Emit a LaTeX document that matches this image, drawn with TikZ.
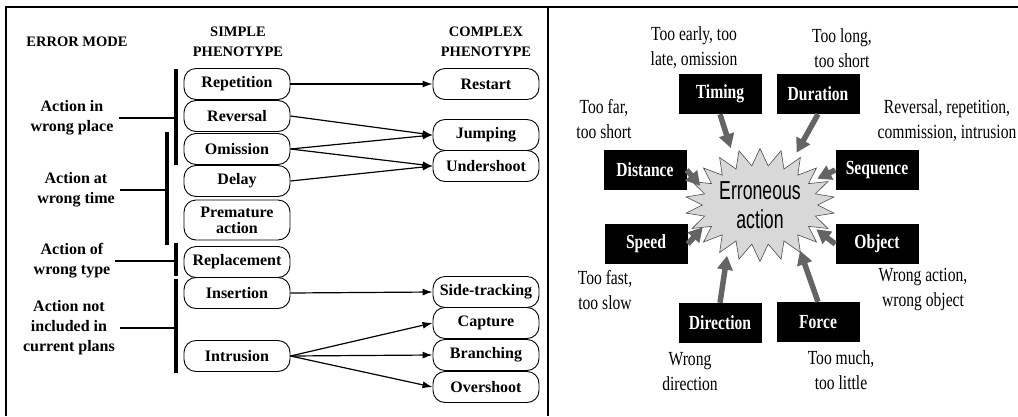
\documentclass[tikz,border=0pt]{standalone}
\usepackage{fontspec}
\setmainfont{Liberation Serif}
\newfontfamily\narrowserif[FakeStretch=0.78]{Liberation Serif}
\newfontfamily\narrowsans[FakeStretch=0.68]{Liberation Sans}
\usepackage{tikz}
\usetikzlibrary{
  arrows.meta, shapes.symbols, positioning
}
\usepackage{xcolor}
\definecolor{burstgray}{RGB}{216,216,216}
\definecolor{arrowgray}{RGB}{100,100,100}

\begin{document}
\begin{tikzpicture}[x=1pt, y=-1pt,
    phenbox/.style={draw, line width=0.9pt, rounded corners=12pt,
      minimum width=106pt, minimum height=31pt, inner sep=1pt, align=center,
      font=\bfseries\fontsize{16}{16}\selectfont},
    errlabel/.style={align=center, inner sep=5pt,
      font=\bfseries\fontsize{16}{20}\selectfont},
    colhead/.style={align=center, font=\bfseries\fontsize{14.5}{20}\selectfont},
    bracket/.style={line width=3.8pt},
    stub/.style={line width=2.5pt},
    linkarrow/.style={line width=1.2pt, -{Latex[length=10pt,width=7pt]}},
    kindbox/.style={fill=black, text=white, minimum width=83pt, minimum height=40pt,
      inner sep=0pt, font=\narrowserif\bfseries\fontsize{20}{24}\selectfont},
    noteline/.style={align=center, inner sep=0pt,
      font=\narrowserif\fontsize{20}{25}\selectfont},
    pusharrow/.style={draw=arrowgray, line width=5.5pt,
      -{Triangle[length=14pt,width=15pt]}}
  ]
  \useasboundingbox (0,0) rectangle (1018,416);

  % frame
  \draw[line width=1.3pt] (1018,7) -- (6,7) -- (6,416);
  \draw[line width=1.3pt] (548,7) -- (548,416);

  % left panel: headings
  \node[colhead] (errmode) at (77,42) {ERROR MODE};
  \node[colhead] (simplehead) at (238,42) {SIMPLE\\PHENOTYPE};
  \node[colhead] (complexhead) at (486,42) {COMPLEX\\PHENOTYPE};

  % error modes
  \node[errlabel] (place) at (72,118) {Action in\\wrong place};
  \node[errlabel] (time) at (76,190) {Action at\\wrong time};
  \node[errlabel] (type) at (72,261) {Action of\\wrong type};
  \node[errlabel] (plans) at (69,328) {Action not\\included in\\current plans};

  % simple phenotypes
  \node[phenbox] (rep) at (237,84) {Repetition};
  \node[phenbox] (rev) at (237,116) {Reversal};
  \node[phenbox] (omi) at (237,149) {Omission};
  \node[phenbox] (del) at (237,181) {Delay};
  \node[phenbox, minimum height=40pt] (pre) at (237,220) {Premature\\action};
  \node[phenbox] (repl) at (237,262) {Replacement};
  \node[phenbox] (ins) at (237,293) {Insertion};
  \node[phenbox] (intr) at (237,356) {Intrusion};

  % complex phenotypes
  \node[phenbox] (restart) at (486,84) {Restart};
  \node[phenbox] (jump) at (486,135) {Jumping};
  \node[phenbox] (under) at (486,166) {Undershoot};
  \node[phenbox] (side) at (486,292) {Side-tracking};
  \node[phenbox] (capt) at (486,323) {Capture};
  \node[phenbox] (branch) at (486,355) {Branching};
  \node[phenbox] (over) at (486,387) {Overshoot};

  % brackets
  \coordinate (pa) at (176,69);  \coordinate (pb) at (176,165);
  \coordinate (ta) at (167,132); \coordinate (tb) at (167,245);
  \coordinate (ya) at (176,243); \coordinate (yb) at (176,276);
  \coordinate (na) at (176,279); \coordinate (nb) at (176,373);
  \draw[bracket] (pa) -- (pb);
  \draw[bracket] (ta) -- (tb);
  \draw[bracket] (ya) -- (yb);
  \draw[bracket] (na) -- (nb);
  \draw[stub] (place.east) -- (place.east -| pa);
  \draw[stub] (time.east) -- (time.east -| ta);
  \draw[stub] (type.east) -- (type.east -| ya);
  \draw[stub] (plans.east) -- (plans.east -| na);

  % links
  \draw[linkarrow] (rep.east) -- (restart.west);
  \draw[linkarrow] (rev.east) -- (jump.west);
  \draw[linkarrow] (omi.east) -- (jump.west);
  \draw[linkarrow] (omi.east) -- (under.west);
  \draw[linkarrow] (del.east) -- (under.west);
  \draw[linkarrow] (ins.east) -- (side.west);
  \draw[linkarrow] (intr.east) -- (capt.west);
  \draw[linkarrow] (intr.east) -- (branch.west);
  \draw[linkarrow] (intr.east) -- (over.west);

  % right panel
  \node[starburst, starburst points=22, starburst point height=17pt,
        random starburst=0, draw=black!70, fill=burstgray, line width=0.6pt,
        minimum width=133pt, minimum height=113pt, inner sep=0pt, align=center,
        font=\narrowsans\fontsize{26}{29}\selectfont] (burst) at (760,205)
        {Erroneous\\action};
  \node[circle, minimum size=124pt, inner sep=0pt] (hub) at (760,203) {};

  \node[kindbox] (timing) at (720,94) {Timing};
  \node[kindbox] (duration) at (818,94) {Duration};
  \node[kindbox] (distance) at (645,170) {Distance};
  \node[kindbox] (sequence) at (877,170) {Sequence};
  \node[kindbox] (speed) at (646,244) {Speed};
  \node[kindbox] (object) at (877,244) {Object};
  \node[kindbox] (direction) at (720,323) {Direction};
  \node[kindbox] (force) at (818,322) {Force};

  \node[noteline] (early) at (694,48) {Too early, too\\late, omission};
  \node[noteline] (long) at (842,48) {Too long,\\too short};
  \node[noteline] (far) at (604,119) {Too far,\\too short};
  \node[noteline] (order) at (947,121) {Reversal, repetition,\\commission, intrusion};
  \node[noteline] (fast) at (605,290) {Too fast,\\too slow};
  \node[noteline] (wrongobj) at (923,290) {Wrong action,\\wrong object};
  \node[noteline] (wrongdir) at (690,372) {Wrong\\direction};
  \node[noteline] (much) at (841,370) {Too much,\\too little};

  \draw[pusharrow] (timing.south) -- (hub.118);
  \draw[pusharrow] (duration.south) -- (hub.54);
  \draw[pusharrow] (distance.east) -- (hub.164);
  \draw[pusharrow] (sequence.west) -- (hub.23);
  \draw[pusharrow] (speed.east) -- (hub.203);
  \draw[pusharrow] (object.west) -- (hub.-25);
  \draw[pusharrow] (direction.north) -- (hub.238);
  \draw[pusharrow] (force.north) -- (hub.-50);
\end{tikzpicture}
\end{document}
